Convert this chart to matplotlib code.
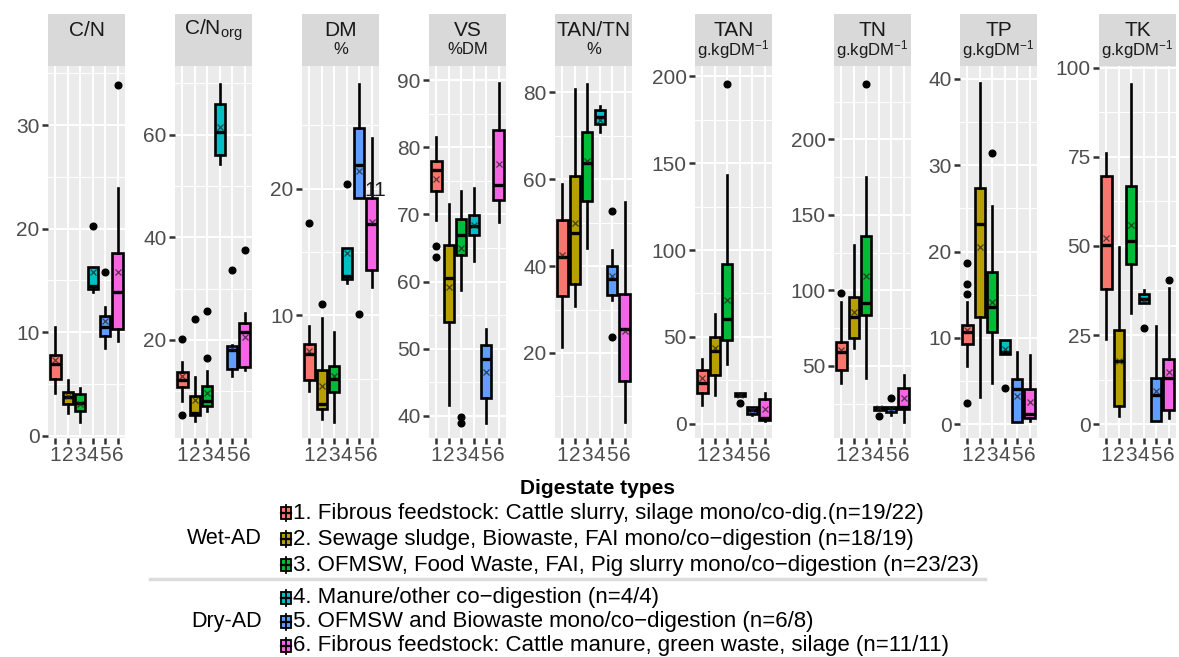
import matplotlib
matplotlib.use('Agg')
import matplotlib.pyplot as plt
from matplotlib.ticker import MultipleLocator, AutoMinorLocator
from matplotlib.patches import Rectangle

plt.rcParams['font.family'] = ['Liberation Sans', 'DejaVu Sans']
plt.rcParams['mathtext.fontset'] = 'custom'
plt.rcParams['mathtext.rm'] = 'Liberation Sans'
plt.rcParams['mathtext.it'] = 'Liberation Sans:italic'

# --- DATOS (whislo, q1, med, q3, whishi) por tipo de digestato 1..6 ---
grupos = ['1', '2', '3', '4', '5', '6']
colores = ['#F8766D', '#B79F00', '#00BA38', '#00BFC4', '#619CFF', '#F564E3']

cn_box = [[4.1, 5.5, 6.9, 7.85, 10.5], [2.25, 3.05, 3.76, 4.2, 5.4], [1.3, 2.4, 3.2, 4.0, 4.66],
          [13.9, 14.2, 14.5, 16.3, 16.3], [8.5, 9.6, 10.5, 11.6, 12.4], [9.2, 10.3, 13.9, 17.7, 23.9]]
cn_mean = [7.3, 3.9, 3.1, 15.8, 11.1, 15.8]
cn_out = [[], [], [], [20.3], [15.8], [33.9]]

cnorg_box = [[8.05, 10.8, 12.3, 13.8, 15.8], [4.2, 5.3, 5.8, 9.0, 12.7], [6.1, 7.2, 8.05, 11.0, 13.9],
             [54.3, 56.1, 60.6, 66.0, 69.9], [12.9, 14.4, 18.1, 18.8, 19.0], [14.1, 14.7, 21.5, 23.4, 25.3]]
cnorg_mean = [12.9, 8.4, 9.7, 61.6, 18.4, 20.5]
cnorg_out = [[20.2, 5.3], [24.0], [25.6, 16.4], [], [33.7], [37.5]]

dm_box = [[4.0, 4.9, 6.9, 7.76, 9.13], [1.8, 2.6, 2.95, 5.7, 9.8], [1.6, 3.9, 5.0, 6.0, 8.7],
          [12.55, 12.9, 13.1, 15.3, 15.3], [19.3, 19.3, 21.9, 24.8, 28.3], [12.2, 13.6, 17.2, 19.3, 24.0]]
dm_mean = [7.2, 4.4, 5.2, 14.9, 21.4, 17.4]
dm_out = [[17.3], [10.9], [], [20.4], [10.1], []]

vs_box = [[69.2, 73.5, 76.6, 77.9, 81.5], [41.6, 54.0, 60.5, 65.4, 71.5], [58.75, 64.0, 66.9, 69.3, 73.5],
          [63.1, 66.9, 68.2, 69.9, 73.9], [39.0, 42.6, 48.4, 50.5, 53.0], [68.8, 72.1, 74.4, 82.6, 89.5]]
vs_mean = [75.3, 59.2, 65.0, 68.4, 46.6, 77.5]
vs_out = [[65.3, 63.7], [], [39.8, 38.9], [], [], []]

tantn_box = [[21.4, 33.0, 42.1, 50.7, 58.9], [30.9, 35.9, 47.6, 60.7, 80.8], [44.2, 54.9, 63.7, 70.8, 82.0],
             [71.0, 72.7, 74.3, 76.0, 76.8], [32.3, 33.4, 37.0, 40.1, 43.6], [4.0, 13.5, 25.4, 33.6, 54.7]]
tantn_mean = [42.5, 49.9, 64.1, 73.7, 37.8, 25.0]
tantn_out = [[], [], [], [], [52.8, 23.7], []]

tan_box = [[10.9, 17.7, 23.4, 30.7, 37.4], [16.3, 28.2, 41.7, 49.9, 63.3], [34.4, 48.4, 60.3, 91.9, 143.4],
           [15.7, 15.7, 16.7, 17.7, 17.7], [5.2, 5.8, 7.7, 9.6, 9.6], [1.3, 1.9, 3.3, 14.2, 17.7]]
tan_mean = [26.3, 43.6, 71.4, 16.5, 7.6, 8.4]
tan_out = [[], [], [195.6], [11.9], [], []]

tn_box = [[39.0, 47.3, 59.5, 66.1, 92.1], [61.7, 68.3, 82.6, 95.4, 130.1], [41.8, 83.7, 91.9, 136.0, 175.3],
          [20.9, 20.9, 22.0, 23.1, 23.1], [17.8, 19.8, 22.0, 23.1, 23.1], [13.2, 21.3, 23.1, 35.7, 44.0]]
tn_mean = [60.6, 85.9, 109.6, 22.0, 21.5, 28.6]
tn_out = [[98.5], [], [236.4], [16.9], [28.6], []]

tp_box = [[6.7, 9.3, 10.7, 11.5, 14.2], [3.2, 12.4, 23.2, 27.4, 39.5], [4.75, 10.7, 13.6, 17.6, 25.3],
          [8.1, 8.1, 8.4, 9.7, 9.7], [0.3, 0.3, 4.06, 5.2, 8.4], [0.4, 0.7, 1.16, 4.06, 8.0]]
tp_mean = [10.9, 20.5, 14.2, 8.7, 3.3, 2.6]
tp_out = [[18.7, 16.2, 15.1, 2.4], [], [31.4], [4.25], [], []]

tk_box = [[23.8, 37.9, 50.3, 69.6, 76.2], [2.3, 5.0, 17.6, 26.3, 49.8], [31.3, 44.9, 51.5, 66.8, 95.4],
          [33.9, 33.9, 35.0, 36.5, 37.5], [0.75, 0.75, 8.2, 12.9, 27.6], [1.7, 4.0, 12.9, 18.2, 38.1]]
tk_mean = [52.1, 17.8, 55.9, 34.9, 9.4, 14.5]
tk_out = [[], [], [], [26.9], [], [40.5]]

titulos = ['C/N', 'C/N$_{\\mathrm{org}}$', 'DM', 'VS', 'TAN/TN', 'TAN', 'TN', 'TP', 'TK']
unidades = ['', '', '%', '%DM', '%', 'g.kgDM$^{-1}$', 'g.kgDM$^{-1}$', 'g.kgDM$^{-1}$', 'g.kgDM$^{-1}$']

leyenda = ['1. Fibrous feedstock: Cattle slurry, silage mono/co-dig.(n=19/22)',
           '2. Sewage sludge, Biowaste, FAI mono/co\u2212digestion (n=18/19)',
           '3. OFMSW, Food Waste, FAI, Pig slurry mono/co\u2212digestion (n=23/23)',
           '4. Manure/other co\u2212digestion (n=4/4)',
           '5. OFMSW and Biowaste mono/co\u2212digestion (n=6/8)',
           '6. Fibrous feedstock: Cattle manure, green waste, silage (n=11/11)']
bloques = ['Wet-AD', 'Dry-AD']

paneles = [(cn_box, cn_mean, cn_out), (cnorg_box, cnorg_mean, cnorg_out), (dm_box, dm_mean, dm_out),
           (vs_box, vs_mean, vs_out), (tantn_box, tantn_mean, tantn_out), (tan_box, tan_mean, tan_out),
           (tn_box, tn_mean, tn_out), (tp_box, tp_mean, tp_out), (tk_box, tk_mean, tk_out)]

# --- LAYOUT (pixeles) ---
W, H = 1179, 657
izq = [48, 175, 302, 429, 555, 695, 834, 960, 1099]
ancho = 77
limites_y = [(-0.2, 35.7), (0.9, 73.4), (0.3, 29.7), (36.7, 92.1), (0.4, 86.1),
             (-8.3, 206), (2.3, 248.5), (-1.6, 41.5), (-3.9, 100.5)]
paso_y = [10, 20, 10, 10, 20, 50, 50, 10, 25]

fig = plt.figure(figsize=(W / 100, H / 100), dpi=100)


def ejes_px(x0, x1, y0, y1):
    return fig.add_axes([x0 / W, 1 - y1 / H, (x1 - x0) / W, (y1 - y0) / H])


for i, (cajas, medias, atipicos) in enumerate(paneles):
    ax = ejes_px(izq[i], izq[i] + ancho, 66, 438)
    ax.set_facecolor('#EBEBEB')
    stats = []
    for c, m, f in zip(cajas, medias, atipicos):
        stats.append(dict(whislo=c[0], q1=c[1], med=c[2], q3=c[3], whishi=c[4], mean=m, fliers=f))
    bp = ax.bxp(stats, positions=range(1, 7), widths=0.82, patch_artist=True, showmeans=True,
                showcaps=False,
                boxprops=dict(edgecolor='black', linewidth=1.9),
                whiskerprops=dict(color='black', linewidth=1.9),
                medianprops=dict(color='black', linewidth=2.4),
                meanprops=dict(marker='x', markeredgecolor='#222222', markersize=5,
                               markeredgewidth=0.9, alpha=0.75),
                flierprops=dict(marker='o', markerfacecolor='black', markeredgecolor='black',
                                markersize=4.8))
    for caja, col in zip(bp['boxes'], colores):
        caja.set_facecolor(col)
    ax.set_xlim(0.4, 6.6)
    ax.set_ylim(*limites_y[i])
    ax.yaxis.set_major_locator(MultipleLocator(paso_y[i]))
    ax.yaxis.set_minor_locator(AutoMinorLocator(2))
    ax.set_xticks(range(1, 7))
    ax.set_xticklabels(grupos)
    ax.set_axisbelow(True)
    ax.grid(which='major', color='white', linewidth=1.4)
    ax.grid(which='minor', axis='y', color='white', linewidth=0.7)
    for s in ax.spines.values():
        s.set_visible(False)
    ax.tick_params(which='major', length=4, width=1.8, color='#333333', labelsize=15,
                   labelcolor='#4D4D4D', pad=2)
    ax.tick_params(which='minor', length=0)

    # strip superior
    sx = ejes_px(izq[i], izq[i] + ancho, 14, 66)
    sx.set_facecolor('#D9D9D9')
    sx.set_xticks([])
    sx.set_yticks([])
    for s in sx.spines.values():
        s.set_visible(False)
    sx.text(0.5, 1 - 16 / 52, titulos[i], transform=sx.transAxes, ha='center', va='center',
            fontsize=15, color='#1A1A1A')
    if unidades[i]:
        sx.text(0.5, 1 - 36 / 52, unidades[i], transform=sx.transAxes, ha='center', va='center',
                fontsize=12, color='#1A1A1A')

    if i == 2:
        ax.text(6.3, 19.9, '11', ha='center', va='center', fontsize=15, color='#1A1A1A',
                clip_on=False)

# --- LEYENDA ---
lx = fig.add_axes([0, 0, 1, 1], zorder=-1)
lx.set_xlim(0, W)
lx.set_ylim(H, 0)
lx.axis('off')

lx.text(598, 488, 'Digestate types', ha='center', va='center', fontsize=15, fontweight='bold',
        color='black')
filas_y = [513, 539, 565, 598, 622, 646]
for texto, col, yy in zip(leyenda, colores, filas_y):
    lx.plot([286, 286], [yy - 8, yy + 8], color='black', linewidth=1.3)
    lx.add_patch(Rectangle((281, yy - 6), 10, 12, facecolor=col, edgecolor='black', linewidth=1.3))
    lx.plot([281, 291], [yy, yy], color='black', linewidth=1.6)
    lx.text(293, yy, texto, ha='left', va='center', fontsize=16, color='black')
lx.text(262, 539, bloques[0], ha='right', va='center', fontsize=15.5, color='black')
lx.text(262, 622, bloques[1], ha='right', va='center', fontsize=15.5, color='black')
lx.plot([150, 985], [579, 579], color='#DCDCDC', linewidth=2.5)

plt.savefig('out.png', dpi=100)
